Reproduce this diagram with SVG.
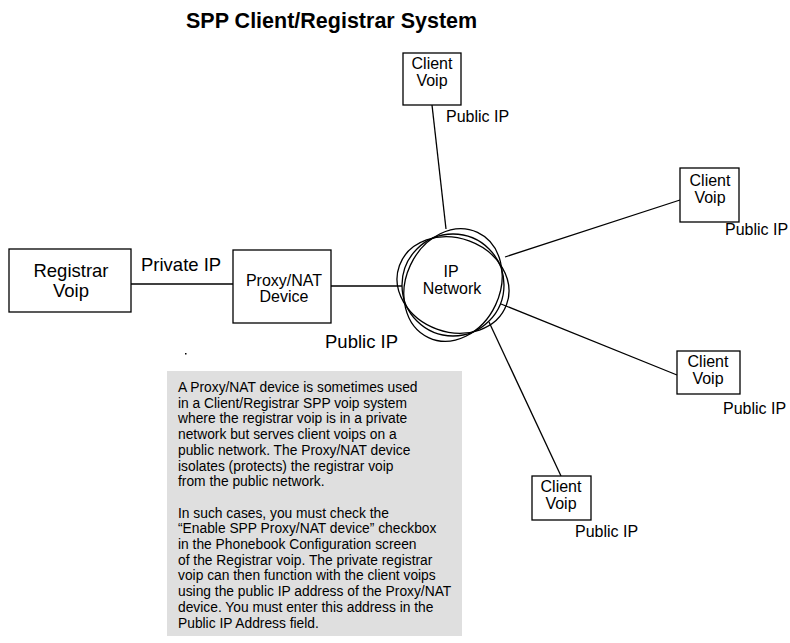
<svg xmlns="http://www.w3.org/2000/svg" width="790" height="643" viewBox="0 0 790 643">
<style>
text{font-family:"Liberation Sans",Arial,sans-serif;fill:#000}
.box{fill:#fff;stroke:#000;stroke-width:1.3}
.ln{stroke:#000;stroke-width:1.3;fill:none}
.net{fill:none;stroke:#000;stroke-width:1.3}
.lbl{font-size:18.5px}
.sm{font-size:16px}
.note{font-size:13.8px}
</style>
<rect width="790" height="643" fill="#fff"/>
<text x="186" y="28" font-size="21.5" font-weight="bold">SPP Client/Registrar System</text>
<g id="connectors">
<line class="ln" x1="131" y1="284" x2="233" y2="284"/>
<line class="ln" x1="331" y1="286" x2="402" y2="286"/>
<line class="ln" x1="432" y1="105" x2="446" y2="229"/>
<line class="ln" x1="680" y1="200" x2="505" y2="257"/>
<line class="ln" x1="677" y1="375" x2="501" y2="304"/>
<line class="ln" x1="561" y1="476" x2="489" y2="322"/>
</g>
<g id="registrar">
<rect class="box" x="9" y="249" width="122" height="63"/>
<text class="lbl" x="71" y="277" text-anchor="middle">Registrar</text>
<text class="lbl" x="71" y="297" text-anchor="middle">Voip</text>
</g>
<text class="lbl" x="141" y="271">Private IP</text>
<g id="proxy">
<rect class="box" x="233" y="250" width="98" height="73"/>
<text class="sm" x="284" y="286" text-anchor="middle">Proxy/NAT</text>
<text class="sm" x="284" y="302" text-anchor="middle">Device</text>
</g>
<text class="lbl" x="325" y="348">Public IP</text>
<rect x="185" y="353" width="1.5" height="1.5" fill="#000"/>
<g id="ipnetwork">
<circle class="net" cx="453" cy="285" r="51"/>
<ellipse class="net" cx="453" cy="285" rx="57" ry="47" transform="rotate(20 453 285)"/>
<ellipse class="net" cx="453" cy="285" rx="58" ry="47" transform="rotate(-65 453 285)"/>
<text class="sm" x="451" y="277" text-anchor="middle">IP</text>
<text class="sm" x="452" y="294" text-anchor="middle">Network</text>
</g>
<g id="client-top">
<rect class="box" x="403" y="53" width="58" height="52"/>
<text class="sm" x="432" y="69" text-anchor="middle">Client</text>
<text class="sm" x="432" y="86" text-anchor="middle">Voip</text>
</g>
<text class="sm" x="446" y="122">Public IP</text>
<g id="client-right1">
<rect class="box" x="680" y="168" width="59" height="54"/>
<text class="sm" x="710" y="186" text-anchor="middle">Client</text>
<text class="sm" x="710" y="203" text-anchor="middle">Voip</text>
</g>
<text class="sm" x="725" y="235">Public IP</text>
<g id="client-right2">
<rect class="box" x="677" y="351" width="63" height="43"/>
<text class="sm" x="708" y="367" text-anchor="middle">Client</text>
<text class="sm" x="708" y="384" text-anchor="middle">Voip</text>
</g>
<text class="sm" x="723" y="414">Public IP</text>
<g id="client-bottom">
<rect class="box" x="532" y="476" width="59" height="44"/>
<text class="sm" x="561" y="492" text-anchor="middle">Client</text>
<text class="sm" x="561" y="509" text-anchor="middle">Voip</text>
</g>
<text class="sm" x="575" y="537">Public IP</text>
<g id="note">
<rect x="167" y="371" width="295" height="265" fill="#dfdfdf"/>
<text class="note" x="178" y="392">A Proxy/NAT device is sometimes used</text>
<text class="note" x="178" y="407.7">in a Client/Registrar SPP voip system</text>
<text class="note" x="178" y="423.4">where  the registrar voip is in a private</text>
<text class="note" x="178" y="439.1">network but serves client voips on a</text>
<text class="note" x="178" y="454.8">public network.  The Proxy/NAT device</text>
<text class="note" x="178" y="470.5">isolates (protects) the registrar voip</text>
<text class="note" x="178" y="486.2">from the public network.</text>
<text class="note" x="178" y="517.6">In such cases, you must check the</text>
<text class="note" x="178" y="533.3">“Enable SPP Proxy/NAT device” checkbox</text>
<text class="note" x="178" y="549">in the Phonebook Configuration screen</text>
<text class="note" x="178" y="564.7">of the Registrar voip. The private registrar</text>
<text class="note" x="178" y="580.4">voip can then function with the client voips</text>
<text class="note" x="178" y="596.1">using the public IP address of the Proxy/NAT</text>
<text class="note" x="178" y="611.8">device.  You must enter this address in the</text>
<text class="note" x="178" y="627.5">Public IP Address field.</text>
</g>
</svg>
